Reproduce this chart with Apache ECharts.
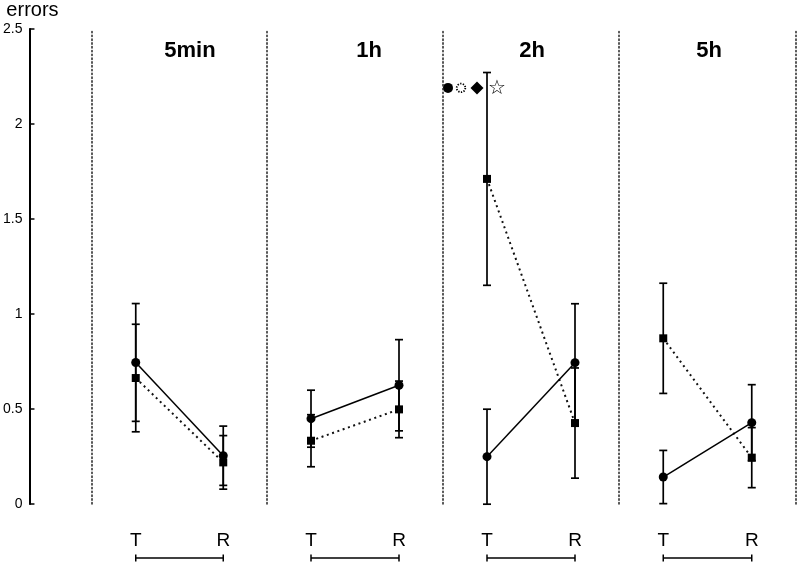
<!DOCTYPE html>
<html><head><meta charset="utf-8">
<script src="https://cdn.jsdelivr.net/npm/echarts@6/dist/echarts.min.js"></script>
<style>html,body{margin:0;padding:0;background:#fff}#c{width:800px;height:564px}</style>
</head><body><div id="c"></div>
<script>
// ---- data ----
const categories = ['T', 'R'];
const panels = ['5min', '1h', '2h', '5h'];
const yMin = 0, yMax = 2.5, yStep = 0.5;
// filled circles (solid line)
const circle5min = [0.745, 0.254];
const circle1h   = [0.449, 0.625];
const circle2h   = [0.249, 0.744];
const circle5h   = [0.142, 0.428];
const circleErr5min = [0.31, 0.156];
const circleErr1h   = [0.15, 0.24];
const circleErr2h   = [0.25, 0.31];
const circleErr5h   = [0.14, 0.20];
// filled squares (dotted line)
const square5min = [0.663, 0.219];
const square1h   = [0.333, 0.498];
const square2h   = [1.711, 0.426];
const square5h   = [0.872, 0.244];
const squareErr5min = [0.283, 0.141];
const squareErr1h   = [0.137, 0.149];
const squareErr2h   = [0.56, 0.29];
const squareErr5h   = [0.29, 0.158];
const significance = '2h'; // panel carrying the ● ◌ ◆ ☆ markers
const sigLevel = 2.19;

const circleMeans = [circle5min, circle1h, circle2h, circle5h];
const circleErrs = [circleErr5min, circleErr1h, circleErr2h, circleErr5h];
const squareMeans = [square5min, square1h, square2h, square5h];
const squareErrs = [squareErr5min, squareErr1h, squareErr2h, squareErr5h];

// ---- layout ----
const FONT = 'Liberation Sans, Arial, Helvetica, sans-serif';
const gridTop = 29, gridH = 475;
const panelLeft = [92, 267, 443, 619];
const panelWidth = [175, 176, 176, 177];
const titleCenter = [185, 364, 527, 704];
const dotted = { type: [1.4, 2.4], width: 1.5, color: '#222' };

const chart = echarts.init(document.getElementById('c'), null, { renderer: 'canvas' });

function renderErr(params, api) {
  const x = api.value(0);
  const lo = api.coord([x, api.value(1)]);
  const hi = api.coord([x, api.value(2)]);
  const cw = 4;
  const st = { stroke: '#000', lineWidth: 1.7 };
  return { type: 'group', children: [
    { type: 'line', shape: { x1: lo[0], y1: lo[1], x2: hi[0], y2: hi[1] }, style: st },
    { type: 'line', shape: { x1: lo[0] - cw, y1: lo[1], x2: lo[0] + cw, y2: lo[1] }, style: st },
    { type: 'line', shape: { x1: hi[0] - cw, y1: hi[1], x2: hi[0] + cw, y2: hi[1] }, style: st }
  ]};
}

const grids = [{ left: 28, top: gridTop, width: 64, height: gridH }];
const xAxes = [{ gridIndex: 0, type: 'value', show: false }];
const yAxes = [{
  gridIndex: 0, type: 'value', min: yMin, max: yMax, interval: yStep,
  name: 'errors', nameLocation: 'end', nameGap: 9,
  nameTextStyle: { fontSize: 20, color: '#000', fontFamily: FONT, align: 'center', padding: [0, 0, 0, 6] },
  axisLine: { show: true, lineStyle: { color: '#000', width: 2 } },
  axisTick: { show: true, inside: true, length: 5, lineStyle: { color: '#000', width: 1.5 } },
  axisLabel: { fontSize: 14, color: '#000', margin: 7, fontFamily: FONT },
  splitLine: { show: false }
}];
const series = [];
const titles = [];

panels.forEach((p, i) => {
  const g = i + 1;
  grids.push({ left: panelLeft[i], top: gridTop, width: panelWidth[i], height: gridH });
  xAxes.push({
    gridIndex: g, type: 'category', data: categories, boundaryGap: true,
    axisLine: { show: false }, axisTick: { show: false }, splitLine: { show: false },
    axisLabel: { fontSize: 19, color: '#000', margin: 27, fontFamily: FONT }
  });
  yAxes.push({
    gridIndex: g, type: 'value', min: yMin, max: yMax, interval: yStep,
    axisLine: { show: true, lineStyle: dotted },
    axisTick: { show: false }, axisLabel: { show: false }, splitLine: { show: false }
  });
  titles.push({
    text: p, left: titleCenter[i], top: 35, textAlign: 'center',
    textStyle: { fontSize: 22, fontWeight: 'bold', color: '#000', fontFamily: FONT }
  });
  const yIdx = yAxes.length - 1;
  const cm = circleMeans[i], ce = circleErrs[i], sm = squareMeans[i], se = squareErrs[i];
  series.push({
    type: 'custom', xAxisIndex: g, yAxisIndex: yIdx, renderItem: renderErr, z: 1,
    encode: { x: 0, y: [1, 2] }, silent: true,
    data: categories.map((c, j) => [j, cm[j] - ce[j], cm[j] + ce[j]])
  });
  series.push({
    type: 'custom', xAxisIndex: g, yAxisIndex: yIdx, renderItem: renderErr, z: 1,
    encode: { x: 0, y: [1, 2] }, silent: true,
    data: categories.map((c, j) => [j, sm[j] - se[j], sm[j] + se[j]])
  });
  series.push({
    type: 'line', xAxisIndex: g, yAxisIndex: yIdx, data: sm, z: 3,
    symbol: 'rect', symbolSize: 8, showAllSymbol: true, animation: false,
    itemStyle: { color: '#000' },
    lineStyle: { color: '#111', width: 2, type: [2, 3.6] }
  });
  series.push({
    type: 'line', xAxisIndex: g, yAxisIndex: yIdx, data: cm, z: 4,
    symbol: 'circle', symbolSize: 9, showAllSymbol: true, animation: false,
    itemStyle: { color: '#000' },
    lineStyle: { color: '#000', width: 1.5, type: 'solid' }
  });
});
// right-hand dotted boundary of the last panel
yAxes.push({
  gridIndex: panels.length, type: 'value', min: yMin, max: yMax, interval: yStep, position: 'right',
  axisLine: { show: true, lineStyle: dotted },
  axisTick: { show: false }, axisLabel: { show: false }, splitLine: { show: false }
});

chart.setOption({
  animation: false,
  backgroundColor: '#fff',
  textStyle: { fontFamily: FONT },
  title: titles,
  grid: grids,
  xAxis: xAxes,
  yAxis: yAxes,
  series: series
});

// brackets under T–R and significance markers, placed via the chart's own scales
const graphics = [];
panels.forEach((p, i) => {
  const g = i + 1;
  const t = chart.convertToPixel({ gridIndex: g }, [categories[0], yMin]);
  const r = chart.convertToPixel({ gridIndex: g }, [categories[1], yMin]);
  const by = t[1] + 54;
  const st = { stroke: '#000', lineWidth: 1.5 };
  graphics.push({ type: 'line', shape: { x1: t[0], y1: by, x2: r[0], y2: by }, style: st });
  graphics.push({ type: 'line', shape: { x1: t[0], y1: by - 3.5, x2: t[0], y2: by + 3.5 }, style: st });
  graphics.push({ type: 'line', shape: { x1: r[0], y1: by - 3.5, x2: r[0], y2: by + 3.5 }, style: st });
  if (p === significance) {
    const s = chart.convertToPixel({ gridIndex: g }, [categories[0], sigLevel]);
    graphics.push({ type: 'circle', shape: { cx: s[0] - 39, cy: s[1], r: 5 }, style: { fill: '#000' } });
    graphics.push({ type: 'circle', shape: { cx: s[0] - 26, cy: s[1], r: 4.3 },
      style: { fill: '#fff', stroke: '#000', lineWidth: 1.8, lineDash: [1.3, 1.4] } });
    graphics.push({ type: 'polygon', shape: { points: [[s[0] - 10, s[1] - 6.5], [s[0] - 3.5, s[1]], [s[0] - 10, s[1] + 6.5], [s[0] - 16.5, s[1]]] },
      style: { fill: '#000' } });
    graphics.push({ type: 'text', x: s[0] + 10, y: s[1] + 1,
      style: { text: '☆', fontSize: 20, fill: '#000', align: 'center', verticalAlign: 'middle', fontFamily: 'DejaVu Sans' } });
  }
});
chart.setOption({ graphic: graphics });
</script>
</body></html>
